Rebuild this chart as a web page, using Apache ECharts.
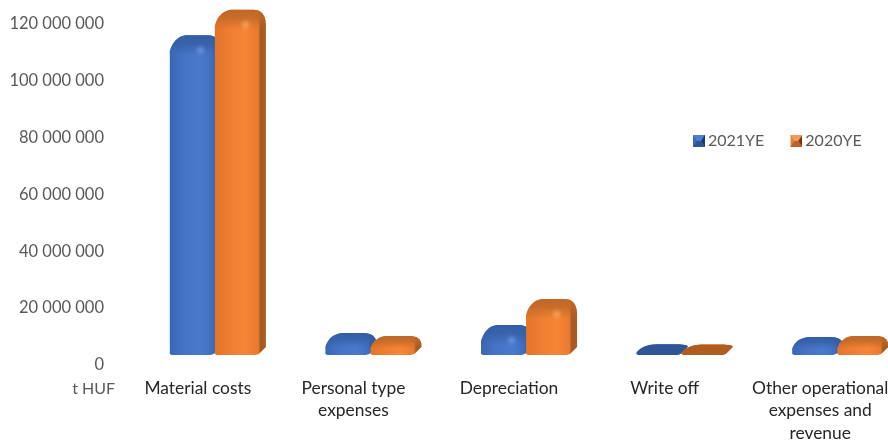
<!DOCTYPE html>
<html>
<head>
<meta charset="utf-8">
<style>html,body{margin:0;padding:0;background:#fff}#c{width:888px;height:440px}</style>
<script src="https://cdn.jsdelivr.net/npm/echarts@6/dist/echarts.min.js"></script>
</head>
<body>
<div id="c"></div>
<script>
const categories = ['Material costs', 'Personal type\nexpenses', 'Depreciation', 'Write off', 'Other operational\nexpenses and\nrevenue'];
const values2021 = [109000000, 4200000, 7000000, 300000, 2800000];
const values2020 = [118000000, 3200000, 16200000, 200000, 3200000];
const seriesNames = ['2021YE', '2020YE'];

function icon(a, b, c, d) {
  const svg = `<svg xmlns="http://www.w3.org/2000/svg" width="12" height="12"><rect width="12" height="12" fill="${a}"/><polygon points="0,0 12,0 8,6 4,6" fill="${b}"/><polygon points="12,0 12,12 8,6" fill="${c}"/><polygon points="0,12 12,12 8,6 4,6" fill="${d}"/></svg>`;
  return 'image://data:image/svg+xml;base64,' + btoa(svg);
}

const palette = {
  blue: {
    front: ['#3a67b2', '#4472c4', '#4a79cb', '#4472c4', '#3f6cba'], side: '#335a9c', cap: 'rgba(52,94,164,', flat: 'rgba(47,85,151,', glow: 'rgba(120,165,235,'
  },
  orange: {
    front: ['#e2742b', '#ed7d31', '#f78536', '#ee7e32', '#e57a2f'], side: '#a85a20', cap: 'rgba(190,104,40,', flat: 'rgba(176,92,30,', glow: 'rgba(255,180,110,'
  }
};

function quad(p0, c, p1, n) {
  const out = [];
  for (let i = 0; i <= n; i++) {
    const t = i / n, u = 1 - t;
    out.push([u * u * p0[0] + 2 * u * t * c[0] + t * t * p1[0], u * u * p0[1] + 2 * u * t * c[1] + t * t * p1[1]]);
  }
  return out;
}

function barRenderer(pal, slot) {
  return function (params, api) {
    const band = api.size([1, 0])[0];
    const w = band * 0.283, depth = band * 0.045;
    const cx = api.coord([api.value(0), 0])[0];
    const zeroY = api.coord([0, 0])[1];
    const base = zeroY - 10;
    const top = api.coord([0, api.value(1)])[1] - 20;
    const H = base - top;
    const x0 = cx - band * 0.18 + slot * (w + 1);
    const x1 = x0 + w, xr = x1 + depth;
    const flat = H < 14;
    const capL = flat ? H * 0.8 : Math.min(16, 0.55 * H + 1.5);
    const capR = flat ? H * 0.2 : Math.min(14, 0.4 * H + 1);
    const cr = flat ? 20 : 16;
    let pts = [[x0, base - 1]];
    pts = pts.concat(quad([x0, top + capL], [x0 + cr * 0.25, top + capL * 0.12], [x0 + cr, top], 10));
    pts = pts.concat(quad([xr - cr * 0.8, top], [xr - 1, top], [xr, top + capR], 8));
    pts.push([xr, Math.max(base - 8, top + capR)]);
    pts = pts.concat(quad([x1 + 1, base - 2], [x1 - 1, base], [x1 - 6, base], 4));
    pts.push([x0 + 2, base]);

    const step = w / (w + depth);
    const fill = {
      type: 'linear', x: 0, y: 0, x2: 1, y2: 0,
      colorStops: [
        { offset: 0, color: pal.front[0] },
        { offset: step * 0.3, color: pal.front[1] },
        { offset: step * 0.68, color: pal.front[2] },
        { offset: step * 0.88, color: pal.front[3] },
        { offset: step - 0.01, color: pal.front[4] },
        { offset: step + 0.03, color: pal.side },
        { offset: 1, color: pal.side }
      ]
    };
    const fade = flat ? 1 : Math.min(20, 0.65 * H) / H;
    const capFill = {
      type: 'linear', x: 0, y: 0, x2: 0, y2: 1,
      colorStops: flat ? [
        { offset: 0, color: pal.flat + '1)' },
        { offset: 1, color: pal.flat + '1)' }
      ] : [
        { offset: 0, color: pal.cap + '1)' },
        { offset: fade * 0.4, color: pal.cap + '0.8)' },
        { offset: fade, color: pal.cap + '0)' },
        { offset: 1, color: pal.cap + '0)' }
      ]
    };
    const children = [
      { type: 'polygon', shape: { points: pts }, style: { fill: fill }, silent: true },
      { type: 'polygon', shape: { points: pts }, style: { fill: capFill }, silent: true }
    ];
    if (H > 25) {
      children.push({
        type: 'circle',
        shape: { cx: x0 + w * 0.7, cy: top + 15, r: 6 },
        style: { fill: { type: 'radial', x: 0.5, y: 0.5, r: 0.5, colorStops: [
          { offset: 0, color: pal.glow + '0.6)' }, { offset: 1, color: pal.glow + '0)' }
        ] } },
        silent: true
      });
    }
    return { type: 'group', children: children };
  };
}

const chart = echarts.init(document.getElementById('c'), null, { renderer: 'canvas' });
chart.setOption({
  animation: false,
  backgroundColor: '#fff',
  textStyle: { fontFamily: 'Lato' },
  grid: { left: 120, width: 778, top: 24, height: 341, containLabel: false, outerBoundsMode: 'none' },
  legend: {
    left: 688, top: 128, itemWidth: 12, itemHeight: 12, itemGap: 26, selectedMode: false,
    textStyle: { fontFamily: 'Lato', fontSize: 16, color: '#595959', padding: [1, 0, 0, -2] },
    data: [
      { name: seriesNames[0], icon: icon('#3d6ab5', '#4f7fd0', '#1f3864', '#2f5597') },
      { name: seriesNames[1], icon: icon('#ed7d31', '#f29a5c', '#6b3a14', '#b86324') }
    ]
  },
  xAxis: {
    type: 'category', data: categories,
    axisLine: { show: false }, axisTick: { show: false }, splitLine: { show: false },
    axisLabel: { interval: 0, margin: 12, fontFamily: 'Lato', fontSize: 17.4, color: '#262626', lineHeight: 22.5 }
  },
  yAxis: {
    type: 'value', min: 0, max: 120000000, interval: 20000000,
    name: 't HUF', nameLocation: 'start', nameGap: 16,
    nameTextStyle: { fontFamily: 'Lato', fontSize: 16, color: '#595959', align: 'right', padding: [0, 5, 0, 0] },
    axisLine: { show: false }, axisTick: { show: false }, splitLine: { show: false },
    axisLabel: {
      margin: 16, fontFamily: 'Lato', fontSize: 16.5, color: '#595959',
      formatter: v => String(v).replace(/\B(?=(\d{3})+$)/g, ' ')
    }
  },
  series: [
    { name: seriesNames[0], type: 'custom', clip: false, itemStyle: { color: '#4472c4' }, renderItem: barRenderer(palette.blue, 0), encode: { x: 0, y: 1 }, data: values2021.map((v, i) => [i, v]) },
    { name: seriesNames[1], type: 'custom', clip: false, itemStyle: { color: '#ed7d31' }, renderItem: barRenderer(palette.orange, 1), encode: { x: 0, y: 1 }, data: values2020.map((v, i) => [i, v]) }
  ]
});
</script>
</body>
</html>
